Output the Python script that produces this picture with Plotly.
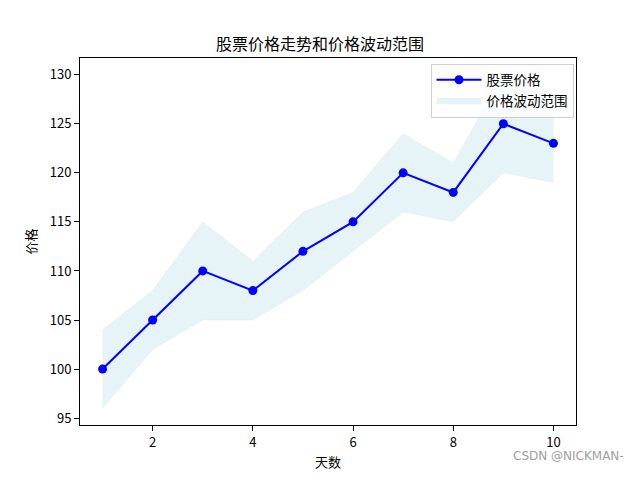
import plotly.graph_objects as go

days = [1, 2, 3, 4, 5, 6, 7, 8, 9, 10]
price = [100, 105, 110, 108, 112, 115, 120, 118, 125, 123]
upper = [104, 108, 115, 111, 116, 118, 124, 121, 130, 128]
lower = [96, 102, 105, 105, 108, 112, 116, 115, 120, 119]
x_ticks = [2, 4, 6, 8, 10]
y_ticks = [95, 100, 105, 110, 115, 120, 125, 130]

FONT = "Noto Sans CJK SC, SimHei, DejaVu Sans"

fig = go.Figure()
fig.add_trace(go.Scatter(x=days, y=lower, mode="lines", line=dict(width=0.5, color="rgba(173,216,230,0.3)"),
                         showlegend=False, hoverinfo="skip"))
fig.add_trace(go.Scatter(x=days, y=upper, mode="lines", fill="tonexty",
                         fillcolor="rgba(173,216,230,0.3)", line=dict(width=0.5, color="rgba(173,216,230,0.3)"),
                         name="价格波动范围"))
fig.add_trace(go.Scatter(x=days, y=price, mode="lines+markers", name="股票价格",
                         line=dict(color="blue", width=2), marker=dict(color="blue", size=9)))

axis_common = dict(showline=True, linecolor="black", linewidth=1, mirror=True, ticks="outside",
                   ticklen=5, tickcolor="black", showgrid=False, zeroline=False,
                   tickfont=dict(family=FONT, size=13, color="black"))

fig.update_layout(
    width=640, height=480,
    margin=dict(l=80, r=64, t=58, b=53),
    plot_bgcolor="white", paper_bgcolor="white",
    title=dict(text="股票价格走势和价格波动范围", x=0.5, xanchor="center", y=1 - 44 / 480, yanchor="middle",
               font=dict(family=FONT, size=16, color="black")),
    xaxis=dict(range=[0.55, 10.45], tickvals=x_ticks,
               title=dict(text="天数", font=dict(family=FONT, size=13, color="black"), standoff=8), **axis_common),
    yaxis=dict(range=[94.3, 131.7], tickvals=y_ticks,
               title=dict(text="价格", font=dict(family=FONT, size=13, color="black"), standoff=10), **axis_common),
    legend=dict(x=0.995, y=0.985, xanchor="right", yanchor="top", bgcolor="rgba(255,255,255,0.8)",
                bordercolor="#d0d0d0", borderwidth=1, traceorder="reversed", itemwidth=45,
                font=dict(family=FONT, size=13.5, color="black")),
    annotations=[dict(text="CSDN @NICKMAN-", xref="paper", yref="paper", x=1.0, y=-0.085,
                      xanchor="left", yanchor="middle", xshift=-65, yshift=0, showarrow=False,
                      font=dict(family="DejaVu Sans", size=12, color="#a0a0a0"))],
)

fig.write_html("out.html")
